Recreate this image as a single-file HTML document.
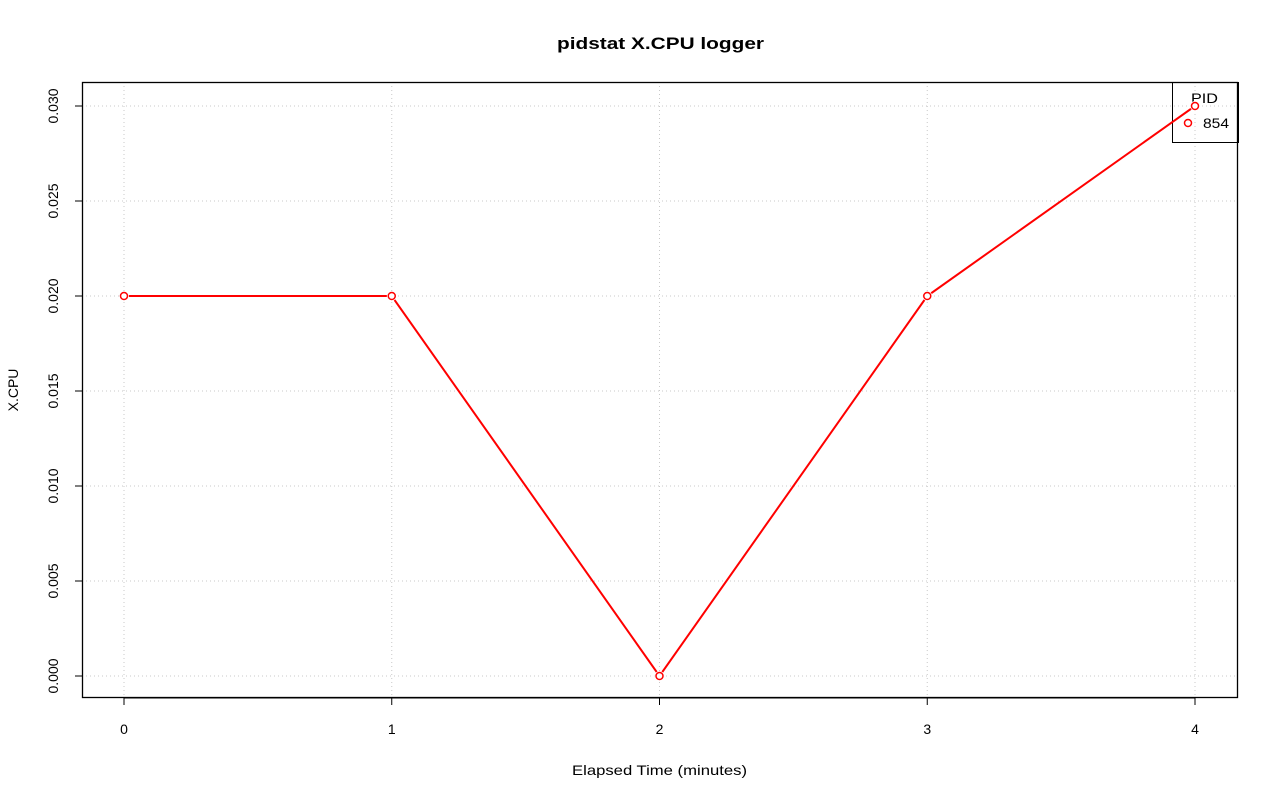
<!DOCTYPE html>
<html><head><meta charset="utf-8"><style>body{margin:0;background:#fff}svg{display:block;font-family:"Liberation Sans",sans-serif}</style></head>
<body>
<svg id="chart" width="1280" height="801"></svg>
<script>
const xValues = [0, 1, 2, 3, 4];
const yValues = [0.020, 0.020, 0.000, 0.020, 0.030];
const xTicks = [0, 1, 2, 3, 4];
const yTicks = [0.000, 0.005, 0.010, 0.015, 0.020, 0.025, 0.030];
const yTickLabels = ["0.000","0.005","0.010","0.015","0.020","0.025","0.030"];
const NS = "http://www.w3.org/2000/svg";
const svg = document.getElementById('chart');
const sx = v => 124 + v * 267.75;
const sy = v => 676 - v * 19000;
function mk(tag, attrs, parent) {
  const e = document.createElementNS(NS, tag);
  for (const k in attrs) e.setAttribute(k, attrs[k]);
  (parent || svg).appendChild(e);
  return e;
}
xTicks.forEach(t => {
  const l = mk('line', {x1: sx(t), x2: sx(t), y1: 82, y2: 698, stroke: '#c8c8c8', 'stroke-dasharray': '1,3'});
  
  
});
yTicks.forEach(t => {
  const l = mk('line', {x1: 82, x2: 1238, y1: sy(t), y2: sy(t), stroke: '#c8c8c8', 'stroke-dasharray': '1,3'});
  
  
});
const lg = mk('g', {});


mk('rect', {x: 1172.5, y: 82.5, width: 66, height: 60, fill: 'none', stroke: '#000', 'stroke-width': 1}, lg);
const lt = mk('text', {x: 1191, y: 103, 'font-size': 14, textLength: 27, lengthAdjust: 'spacingAndGlyphs'}, lg);
lt.textContent = 'PID';


mk('circle', {cx: 1188, cy: 123, r: 3.5, fill: 'none', stroke: 'red', 'stroke-width': 1.5}, lg);
const le = mk('text', {x: 1203, y: 128, 'font-size': 14, textLength: 26, lengthAdjust: 'spacingAndGlyphs'}, lg);
le.textContent = '854';


const pts = xValues.map((x, i) => sx(x) + ',' + sy(yValues[i])).join(' ');
const pl = mk('polyline', {points: pts, fill: 'none', stroke: 'red', 'stroke-width': 2});


xValues.forEach((x, i) => {
  mk('circle', {cx: sx(x), cy: sy(yValues[i]), r: 5, fill: '#fff', stroke: 'none'});
  const c = mk('circle', {cx: sx(x), cy: sy(yValues[i]), r: 3.5, fill: 'none', stroke: 'red', 'stroke-width': 1.5});
  
  
});
const fr = mk('rect', {x: 82.5, y: 82.5, width: 1155, height: 615, fill: 'none', stroke: '#000', 'stroke-width': 1.3});


xTicks.forEach(t => {
  mk('line', {x1: sx(t), x2: sx(t), y1: 698, y2: 705, stroke: '#000'});
  const tx = mk('text', {x: sx(t), y: 734, 'font-size': 14, 'text-anchor': 'middle'});
  tx.textContent = t;
  
  
});
mk('line', {x1: sx(0), x2: sx(4), y1: 698, y2: 698, stroke: '#000'});
yTicks.forEach((t, i) => {
  mk('line', {x1: 75, x2: 82, y1: sy(t), y2: sy(t), stroke: '#000'});
  const tx = mk('text', {x: 0, y: 0, 'font-size': 14, 'text-anchor': 'middle', transform: `translate(58,${sy(t)}) rotate(-90)`});
  tx.textContent = yTickLabels[i];
  
  
});
const xt = mk('text', {x: 572, y: 775, 'font-size': 14, textLength: 175, lengthAdjust: 'spacingAndGlyphs'});
xt.textContent = 'Elapsed Time (minutes)';


const yt = mk('text', {x: 0, y: 0, 'font-size': 14, 'text-anchor': 'middle', transform: 'translate(18,390) rotate(-90)'});
yt.textContent = 'X.CPU';


const ti = mk('text', {x: 557, y: 49, 'font-size': 17, 'font-weight': 'bold', textLength: 207, lengthAdjust: 'spacingAndGlyphs'});
ti.textContent = 'pidstat X.CPU logger';


</script>
</body></html>
